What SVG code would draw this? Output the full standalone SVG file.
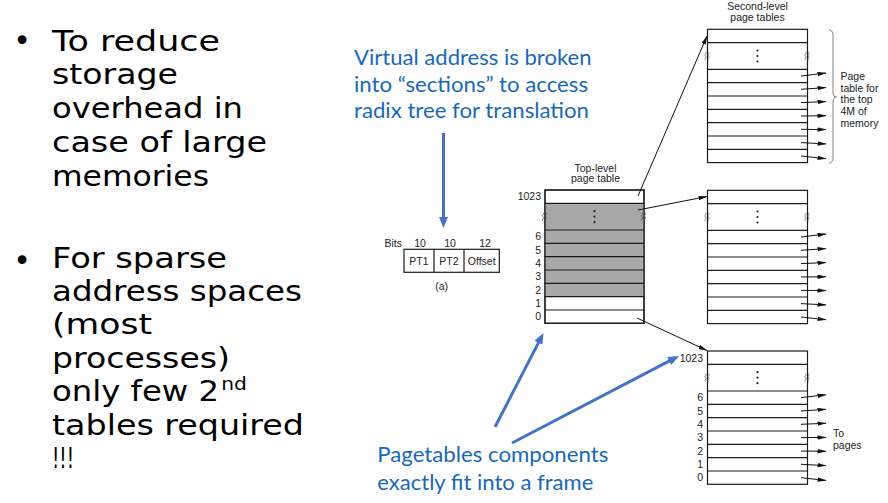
<svg xmlns="http://www.w3.org/2000/svg" xmlns:xlink="http://www.w3.org/1999/xlink" width="888" height="503" viewBox="0 0 888 503">
<style>
.big{font-family:"DejaVu Sans",sans-serif;font-size:28.7px;fill:#000}
.bul{font-family:"DejaVu Sans",sans-serif;font-size:30px;fill:#000;text-anchor:middle}
.blue{font-family:Lato,"Open Sans",sans-serif;font-size:22px;fill:#1868BA}
.sm{font-family:"Liberation Sans",Arial,sans-serif;font-size:10.5px;fill:#222}
.smr{font-family:"Liberation Sans",Arial,sans-serif;font-size:10.5px;fill:#222;text-anchor:end}
.smc{font-family:"Liberation Sans",Arial,sans-serif;font-size:10.5px;fill:#222;text-anchor:middle}
.tbl{fill:#fff;stroke:#1a1a1a;stroke-width:1.2}
.row{stroke:#1a1a1a;stroke-width:1.2}
.gray{fill:#a8a8a8}
.ptr{stroke:#111;stroke-width:1;fill:none;marker-end:url(#ah)}
.barrow{stroke:#4472C4;stroke-width:3;fill:none;marker-end:url(#bh)}
.sq{stroke:#444;stroke-width:0.7;fill:none}
.dot{fill:#222}
.brace{stroke:#666;stroke-width:0.8;fill:none}
</style>
<defs>
<marker id="ah" markerUnits="userSpaceOnUse" markerWidth="10" markerHeight="6" refX="8.5" refY="2.2" orient="auto"><path d="M0,0 L9,2.2 L0,4.4 z" fill="#111"/></marker>
<marker id="bh" markerUnits="userSpaceOnUse" markerWidth="12" markerHeight="10" refX="3" refY="4.5" orient="auto"><path d="M0,0 L11,4.5 L0,9 z" fill="#4472C4"/></marker>
<path id="squig" class="sq" d="M-2,-4 c2.2,1.3 -2.2,2.7 0,4 c2.2,1.3 -2.2,2.7 0,4 M1,-4 c2.2,1.3 -2.2,2.7 0,4 c2.2,1.3 -2.2,2.7 0,4"/>
<g id="vdots"><circle class="dot" cx="0" cy="-5.5" r="1.1"/><circle class="dot" cx="0" cy="0" r="1.1"/><circle class="dot" cx="0" cy="5.5" r="1.1"/></g>
</defs>
<rect width="888" height="503" fill="#fff"/>

<g id="left-text">
<text class="bul" x="22" y="51">•</text>
<text class="big" x="52" y="50.5" textLength="168" lengthAdjust="spacingAndGlyphs">To reduce</text>
<text class="big" x="52" y="84.3" textLength="126" lengthAdjust="spacingAndGlyphs">storage</text>
<text class="big" x="52" y="118" textLength="191" lengthAdjust="spacingAndGlyphs">overhead in</text>
<text class="big" x="52" y="152" textLength="215" lengthAdjust="spacingAndGlyphs">case of large</text>
<text class="big" x="52" y="186" textLength="157" lengthAdjust="spacingAndGlyphs">memories</text>
<text class="bul" x="22" y="271">•</text>
<text class="big" x="52" y="267.5" textLength="175" lengthAdjust="spacingAndGlyphs">For sparse</text>
<text class="big" x="52" y="301" textLength="250" lengthAdjust="spacingAndGlyphs">address spaces</text>
<text class="big" x="52" y="334" textLength="100" lengthAdjust="spacingAndGlyphs">(most</text>
<text class="big" x="52" y="367.5" textLength="178" lengthAdjust="spacingAndGlyphs">processes)</text>
<text class="big" x="52" y="401" textLength="195" lengthAdjust="spacingAndGlyphs">only few 2<tspan font-size="18" dx="2" dy="-11">nd</tspan></text>
<text class="big" x="52" y="434.5" textLength="252" lengthAdjust="spacingAndGlyphs">tables required</text>
<text class="big" x="52" y="468" textLength="22" lengthAdjust="spacingAndGlyphs">!!!</text>
</g>

<g id="callout-virtual-address">
<text class="blue" x="354" y="65" textLength="237.5" lengthAdjust="spacingAndGlyphs">Virtual address is broken</text>
<text class="blue" x="354" y="91.5" textLength="234" lengthAdjust="spacingAndGlyphs">into “sections” to access</text>
<text class="blue" x="354" y="118" textLength="235" lengthAdjust="spacingAndGlyphs">radix tree for translation</text>
</g>

<g id="callout-pagetables">
<text class="blue" x="377.3" y="462" textLength="231" lengthAdjust="spacingAndGlyphs">Pagetables components</text>
<text class="blue" x="377.3" y="490" textLength="216" lengthAdjust="spacingAndGlyphs">exactly fit into a frame</text>
</g>

<g id="address-format">
<text class="smr" x="402" y="246.7">Bits</text>
<text class="smc" x="420" y="246.7">10</text>
<text class="smc" x="450" y="246.7">10</text>
<text class="smc" x="485" y="246.7">12</text>
<rect class="tbl" x="404" y="249.3" width="95.3" height="23"/>
<line class="row" x1="434" y1="249.3" x2="434" y2="272.3"/>
<line class="row" x1="464" y1="249.3" x2="464" y2="272.3"/>
<text class="smc" x="419" y="264.5">PT1</text>
<text class="smc" x="449" y="264.5">PT2</text>
<text class="smc" x="481.7" y="264.5">Offset</text>
<text class="smc" x="441.7" y="290">(a)</text>
</g>

<g id="top-level-table">
<text class="smc" x="595.5" y="171.5">Top-level</text>
<text class="smc" x="595.5" y="182">page table</text>
<rect class="tbl" x="545" y="190" width="99" height="133.3"/>
<rect class="gray" x="545" y="203.3" width="99" height="93.4"/>
<line class="row" x1="545" y1="203.3" x2="644" y2="203.3"/>
<line class="row" x1="545" y1="230" x2="644" y2="230"/>
<line class="row" x1="545" y1="243.3" x2="644" y2="243.3"/>
<line class="row" x1="545" y1="256.7" x2="644" y2="256.7"/>
<line class="row" x1="545" y1="270" x2="644" y2="270"/>
<line class="row" x1="545" y1="283.3" x2="644" y2="283.3"/>
<line class="row" x1="545" y1="296.7" x2="644" y2="296.7"/>
<line class="row" x1="545" y1="310" x2="644" y2="310"/>
<rect x="545" y="190" width="99" height="133.3" fill="none" stroke="#1a1a1a" stroke-width="1.2"/>
<use xlink:href="#vdots" x="594.5" y="216.7"/>
<use xlink:href="#squig" x="545" y="216.7"/>
<use xlink:href="#squig" x="644" y="216.7"/>
<text class="smr" x="541" y="200">1023</text>
<text class="smr" x="541" y="240.3">6</text>
<text class="smr" x="541" y="253.6">5</text>
<text class="smr" x="541" y="266.9">4</text>
<text class="smr" x="541" y="280.3">3</text>
<text class="smr" x="541" y="293.6">2</text>
<text class="smr" x="541" y="306.9">1</text>
<text class="smr" x="541" y="320.3">0</text>
</g>

<g id="second-level-top">
<text class="smc" x="757.5" y="10">Second-level</text>
<text class="smc" x="757.5" y="20.5">page tables</text>
<rect class="tbl" x="707.5" y="29.3" width="100" height="133.3"/>
<line class="row" x1="707.5" y1="42.6" x2="807.5" y2="42.6"/>
<line class="row" x1="707.5" y1="69.3" x2="807.5" y2="69.3"/>
<line class="row" x1="707.5" y1="82.6" x2="807.5" y2="82.6"/>
<line class="row" x1="707.5" y1="96" x2="807.5" y2="96"/>
<line class="row" x1="707.5" y1="109.3" x2="807.5" y2="109.3"/>
<line class="row" x1="707.5" y1="122.6" x2="807.5" y2="122.6"/>
<line class="row" x1="707.5" y1="136" x2="807.5" y2="136"/>
<line class="row" x1="707.5" y1="149.3" x2="807.5" y2="149.3"/>
<use xlink:href="#vdots" x="757.5" y="56"/>
<use xlink:href="#squig" x="707.5" y="56"/>
<use xlink:href="#squig" x="807.5" y="56"/>
<path class="brace" d="M829,30 Q833,30 833,35 L833,92 Q833,97 836.5,97 Q833,97 833,102 L833,158 Q833,163 829,163"/>
<text class="sm" x="840.5" y="80">Page</text>
<text class="sm" x="840.5" y="91.7">table for</text>
<text class="sm" x="840.5" y="103.3">the top</text>
<text class="sm" x="840.5" y="115">4M of</text>
<text class="sm" x="840.5" y="126.7">memory</text>
</g>

<g id="second-level-middle">
<rect class="tbl" x="707.5" y="190.3" width="100" height="133.3"/>
<line class="row" x1="707.5" y1="203.6" x2="807.5" y2="203.6"/>
<line class="row" x1="707.5" y1="230.3" x2="807.5" y2="230.3"/>
<line class="row" x1="707.5" y1="243.6" x2="807.5" y2="243.6"/>
<line class="row" x1="707.5" y1="257" x2="807.5" y2="257"/>
<line class="row" x1="707.5" y1="270.3" x2="807.5" y2="270.3"/>
<line class="row" x1="707.5" y1="283.6" x2="807.5" y2="283.6"/>
<line class="row" x1="707.5" y1="297" x2="807.5" y2="297"/>
<line class="row" x1="707.5" y1="310.3" x2="807.5" y2="310.3"/>
<use xlink:href="#vdots" x="757.5" y="217"/>
<use xlink:href="#squig" x="707.5" y="217"/>
<use xlink:href="#squig" x="807.5" y="217"/>
</g>

<g id="second-level-bottom">
<rect class="tbl" x="707.5" y="351" width="100" height="133.3"/>
<line class="row" x1="707.5" y1="364.3" x2="807.5" y2="364.3"/>
<line class="row" x1="707.5" y1="391" x2="807.5" y2="391"/>
<line class="row" x1="707.5" y1="404.3" x2="807.5" y2="404.3"/>
<line class="row" x1="707.5" y1="417.7" x2="807.5" y2="417.7"/>
<line class="row" x1="707.5" y1="431" x2="807.5" y2="431"/>
<line class="row" x1="707.5" y1="444.3" x2="807.5" y2="444.3"/>
<line class="row" x1="707.5" y1="457.7" x2="807.5" y2="457.7"/>
<line class="row" x1="707.5" y1="471" x2="807.5" y2="471"/>
<use xlink:href="#vdots" x="757.5" y="377.7"/>
<use xlink:href="#squig" x="707.5" y="377.7"/>
<use xlink:href="#squig" x="807.5" y="377.7"/>
<text class="smr" x="703" y="361.5">1023</text>
<text class="smr" x="703" y="401.3">6</text>
<text class="smr" x="703" y="414.6">5</text>
<text class="smr" x="703" y="427.9">4</text>
<text class="smr" x="703" y="441.3">3</text>
<text class="smr" x="703" y="454.6">2</text>
<text class="smr" x="703" y="467.9">1</text>
<text class="smr" x="703" y="481.3">0</text>
<text class="sm" x="833" y="437">To</text>
<text class="sm" x="833" y="449">pages</text>
</g>

<g id="connectors">
<line class="ptr" x1="638" y1="196" x2="707" y2="36"/>
<line class="ptr" x1="638" y1="210" x2="707" y2="196.5"/>
<line class="ptr" x1="637" y1="318" x2="707" y2="350.5"/>
<line class="ptr" x1="801" y1="76" x2="826" y2="73"/>
<line class="ptr" x1="801" y1="89.3" x2="826" y2="87.6"/>
<line class="ptr" x1="801" y1="102.6" x2="826" y2="101.6"/>
<line class="ptr" x1="801" y1="116" x2="826" y2="115.7"/>
<line class="ptr" x1="801" y1="129.3" x2="826" y2="129.6"/>
<line class="ptr" x1="801" y1="142.6" x2="826" y2="143.9"/>
<line class="ptr" x1="801" y1="156" x2="826" y2="158.7"/>
<line class="ptr" x1="801" y1="237" x2="826" y2="234"/>
<line class="ptr" x1="801" y1="250.3" x2="826" y2="248.6"/>
<line class="ptr" x1="801" y1="263.6" x2="826" y2="262.6"/>
<line class="ptr" x1="801" y1="277" x2="826" y2="276.7"/>
<line class="ptr" x1="801" y1="290.3" x2="826" y2="290.6"/>
<line class="ptr" x1="801" y1="303.6" x2="826" y2="304.9"/>
<line class="ptr" x1="801" y1="317" x2="826" y2="319.7"/>
<line class="ptr" x1="801" y1="397.7" x2="826" y2="394.7"/>
<line class="ptr" x1="801" y1="411" x2="826" y2="409.3"/>
<line class="ptr" x1="801" y1="424.3" x2="826" y2="423.3"/>
<line class="ptr" x1="801" y1="437.7" x2="826" y2="437.4"/>
<line class="ptr" x1="801" y1="451" x2="826" y2="451.3"/>
<line class="ptr" x1="801" y1="464.3" x2="826" y2="465.6"/>
<line class="ptr" x1="801" y1="477.7" x2="826" y2="480.4"/>
<line class="barrow" x1="443.5" y1="133" x2="443.5" y2="220"/>
<line class="barrow" x1="495" y1="427" x2="539.8" y2="340.1"/>
<line class="barrow" x1="512" y1="443" x2="671.9" y2="359.7"/>
</g>
</svg>
